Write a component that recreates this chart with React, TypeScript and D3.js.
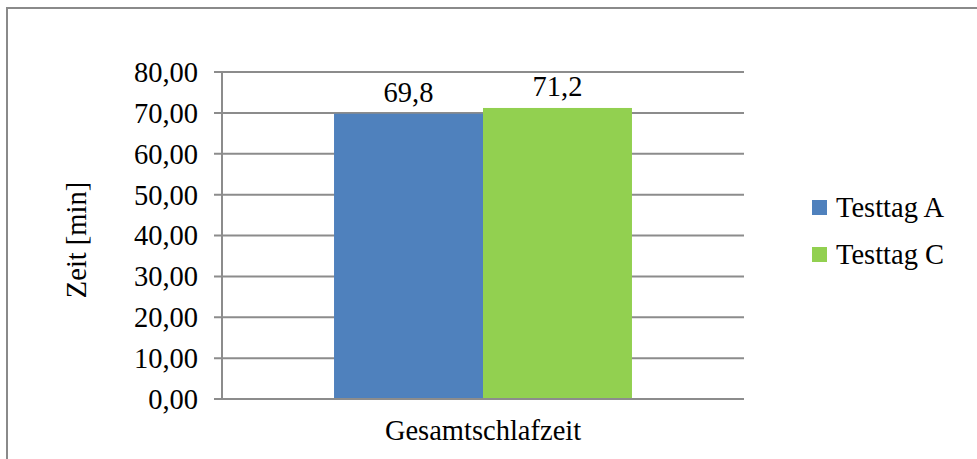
import * as d3 from "d3";

const categories = ["Gesamtschlafzeit"];
const series = ["Testtag A", "Testtag C"];
const valuesA = [69.8];
const valuesC = [71.2];
const colors = ["#4f81bd", "#92d050"];
const yTicks = [0, 10, 20, 30, 40, 50, 60, 70, 80];

const width = 977;
const height = 459;
const margin = { left: 222, right: 233, top: 72, bottom: 60 };
const textStyle = { fontFamily: "'Liberation Serif', 'Times New Roman', Times, serif", fontSize: "28.5px" };

const App = () => {
  const x = d3
    .scaleBand()
    .domain(categories)
    .range([margin.left, width - margin.right])
    .paddingInner(0)
    .paddingOuter(0.376);
  const y = d3.scaleLinear().domain([0, 80]).range([height - margin.bottom, margin.top]);
  const sub = d3.scaleBand().domain(series).range([0, x.bandwidth()]);
  const fmt = (v: number) => v.toFixed(2).replace(".", ",");
  const all = [valuesA, valuesC];

  return (
    <svg width={width} height={height} style={{ position: "absolute", left: 0, top: 0 }}>
      <rect x={0} y={0} width={width} height={height} fill="white" />
      <rect x={7} y={8} width={980} height={470} fill="none" stroke="#8a8a8a" strokeWidth={2} />
      {yTicks.map((t) => (
        <g key={t}>
          <line
            x1={margin.left - 8}
            x2={width - margin.right}
            y1={y(t)}
            y2={y(t)}
            stroke="#8c8c8c"
            strokeWidth={2}
          />
          <text x={margin.left - 24} y={y(t)} dy="0.35em" textAnchor="end" style={textStyle}>
            {fmt(t)}
          </text>
        </g>
      ))}
      <line
        x1={margin.left}
        x2={margin.left}
        y1={y(80)}
        y2={y(0)}
        stroke="#8c8c8c"
        strokeWidth={2}
      />
      {categories.map((c, i) => (
        <g key={c}>
          {series.map((s, j) => (
            <g key={s}>
              <rect
                x={x(c)! + sub(s)!}
                y={y(all[j][i])}
                width={sub.bandwidth()}
                height={y(0) - y(all[j][i]) - 1}
                fill={colors[j]}
              />
              <text
                x={x(c)! + sub(s)! + sub.bandwidth() / 2}
                y={y(all[j][i]) - 12}
                textAnchor="middle"
                style={textStyle}
              >
                {all[j][i].toFixed(1).replace(".", ",")}
              </text>
            </g>
          ))}
          <text x={x(c)! + x.bandwidth() / 2} y={440} textAnchor="middle" style={textStyle}>
            {c}
          </text>
        </g>
      ))}
      <text transform={`translate(86,240) rotate(-90)`} textAnchor="middle" style={textStyle}>
        Zeit [min]
      </text>
      {series.map((s, j) => (
        <g key={s} transform={`translate(812,${200 + j * 47})`}>
          <rect x={0} y={0} width={15} height={15} fill={colors[j]} />
          <text x={24} y={17} style={textStyle}>
            {s}
          </text>
        </g>
      ))}
    </svg>
  );
};

export default App;
